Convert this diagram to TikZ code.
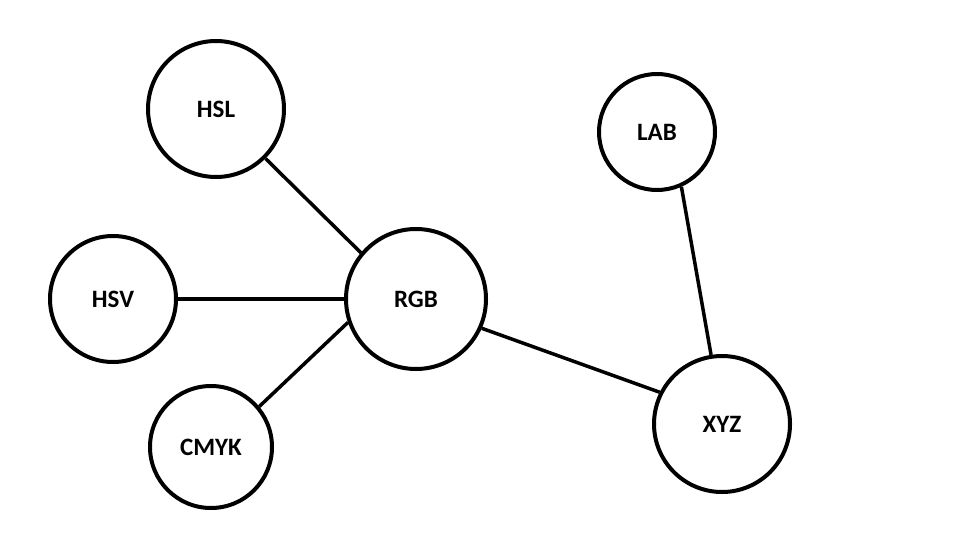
\documentclass[tikz,border=0pt]{standalone}
\usepackage{fontspec}
\setmainfont{Carlito}
\begin{document}
\begin{tikzpicture}[x=1pt,y=-1pt,
  cnode/.style={circle,draw=black,line width=4pt,inner sep=0pt,font=\fontsize{25}{28}\selectfont\bfseries},
  link/.style={line width=3.5pt,draw=black}]
\useasboundingbox[fill=white] (0,0) rectangle (960,540);
\node[cnode,minimum size=136pt] (hsl) at (216,109) {HSL};
\node[cnode,minimum size=126pt] (hsv) at (113,299) {HSV};
\node[cnode,minimum size=122pt] (cmyk) at (211,447) {CMYK};
\node[cnode,minimum size=140pt] (rgb) at (416,299) {RGB};
\node[cnode,minimum size=116pt] (lab) at (657,132) {LAB};
\node[cnode,minimum size=136pt] (xyz) at (722,424) {XYZ};
\draw[link] (hsl.-45) -- (rgb.140);
\draw[link] (hsv.0) -- (rgb.180);
\draw[link] (cmyk.40) -- (rgb.199);
\draw[link] (rgb.-24) -- (xyz.153);
\draw[link] (lab.-66) -- (xyz.99);
\end{tikzpicture}
\end{document}
